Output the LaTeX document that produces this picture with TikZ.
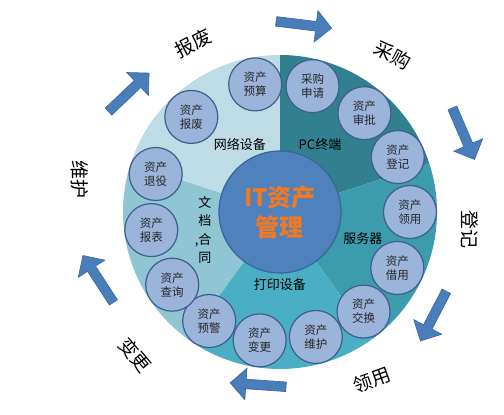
\documentclass[tikz,border=0pt]{standalone}
\usepackage{fontspec}
\setmainfont{Noto Sans CJK SC}
\usepackage{tikz}
\usetikzlibrary{shapes.arrows}
\definecolor{pcteal}{HTML}{31808F}
\definecolor{srvteal}{HTML}{3D9BAE}
\definecolor{prtteal}{HTML}{4AAFC5}
\definecolor{docteal}{HTML}{90C5D3}
\definecolor{netteal}{HTML}{BDDCE5}
\definecolor{assetfill}{HTML}{9AB4DA}
\definecolor{assetline}{HTML}{3E5E8C}
\definecolor{hubfill}{HTML}{4F81BD}
\definecolor{hubline}{HTML}{3B6395}
\definecolor{huborange}{HTML}{F07A22}
\definecolor{arrowfill}{HTML}{4A7EBB}
\definecolor{arrowline}{HTML}{3A67A0}

\begin{document}
\begin{tikzpicture}[x=1pt,y=1pt,
  asset node/.style={circle,draw=assetline,line width=1.2pt,fill=assetfill,minimum size=53pt,inner sep=0pt,align=center,text=black!85,font=\fontsize{11.5}{14}\selectfont},
  hub node/.style={circle,draw=hubline,line width=1.2pt,fill=hubfill,minimum size=122pt,inner sep=0pt,align=center,text=huborange,font=\fontsize{24}{30}\selectfont\bfseries},
  sector label/.style={font=\fontsize{13}{18.5}\selectfont},
  stage node/.style={font=\fontsize{19}{19}\selectfont},
  flow arrow/.style={single arrow,draw=arrowline,fill=arrowfill,line width=0.6pt,inner sep=4.5pt,single arrow head extend=11pt,minimum height=56pt}]
  \useasboundingbox (-280,-203) rectangle (224,212);

  \foreach \from/\to/\col in {18/90/pcteal, -54/18/srvteal, -126/-54/prtteal, 162/234/docteal, 90/162/netteal}
    \fill[\col] (0,0) -- (\from:157) arc[start angle=\from,end angle=\to,radius=157] -- cycle;

  \node[sector label] (net) at (-40,68) {网络设备};
  \node[sector label] (pc) at (40,67) {PC终端};
  \node[sector label] (srv) at (83,-27) {服务器};
  \node[sector label] (prt) at (0,-73) {打印设备};
  \node[sector label,align=center] (doc) at (-75,-18) {文\\档\\\llap{,}合\\同};

  \node[hub node] (hub) at (0,0) {IT资产\\管理};

  \foreach \ang/\txt [count=\i] in {101/{资产\\预算}, 75.5/{采购\\申请}, 49.5/{资产\\审批}, 25/{资产\\登记},
      0/{资产\\领用}, -25.5/{资产\\借用}, -50/{资产\\交换}, -74/{资产\\维护}, -99/{资产\\变更},
      -123/{资产\\预警}, -146/{资产\\查询}, -172/{资产\\报表}, 163/{资产\\退役}, 133/{资产\\报废}}
    \node[asset node] (a\i) at (\ang:130) {\txt};

  \node[flow arrow,rotate=-7] (toBuy) at (21.5,187.5) {};
  \node[flow arrow,rotate=-66.8] (toReg) at (182.5,80.5) {};
  \node[flow arrow,rotate=-117.5] (toUse) at (154.5,-102) {};
  \node[flow arrow,rotate=176] (toChange) at (-19.5,-173) {};
  \node[flow arrow,rotate=123] (toKeep) at (-180.5,-69) {};
  \node[flow arrow,rotate=43.5] (toScrap) at (-153,118) {};

  \node[stage node,rotate=27] (scrap) at (-87,169) {报废};
  \node[stage node,rotate=-28] (buy) at (113,157) {采购};
  \node[stage node,rotate=-90] (reg) at (190,-18) {登记};
  \node[stage node,rotate=20] (use) at (92,-168) {领用};
  \node[stage node,rotate=-50] (change) at (-145,-143) {变更};
  \node[stage node,rotate=-90] (keep) at (-200,32) {维护};
\end{tikzpicture}
\end{document}
